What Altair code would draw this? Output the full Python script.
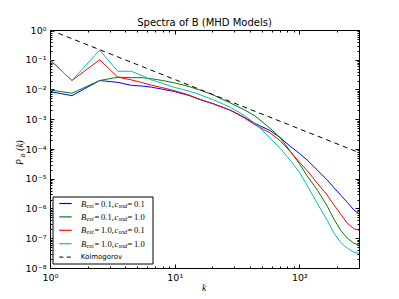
import altair as alt
import pandas as pd

# ---------------- data ----------------
k = [1, 1.5, 2.5, 3.5, 4.5, 5.5, 6.5, 8, 10, 13, 16, 20, 28, 36, 44, 58, 70, 85, 100, 115,
     139, 167, 189, 215, 242, 273, 300]
blue = [0.0085, 0.0062, 0.020, 0.0174, 0.0138, 0.013, 0.012, 0.0102, 0.0085, 0.0063, 0.0046, 0.0034,
        0.0020, 1.17e-3, 7.2e-4, 4.2e-4, 2.4e-4, 1.2e-4, 7.1e-5, 4.3e-5,
        1.95e-5, 9.1e-6, 5.0e-6, 2.75e-6, 1.6e-6, 8.9e-7, 6.6e-7]
green = [0.0096, 0.0075, 0.020, 0.026, 0.025, 0.025, 0.023, 0.020, 0.0166, 0.0126, 0.0095, 0.0068,
         0.0035, 2.1e-3, 1.29e-3, 5.0e-4, 2.4e-4, 8.1e-5, 3.2e-5, 1.26e-5,
         4.2e-6, 1.2e-6, 4.4e-7, 1.8e-7, 1.0e-7, 6.8e-8, 5.9e-8]
red = [0.10, 0.020, 0.10, 0.026, 0.021, 0.017, 0.014, 0.0115, 0.0091, 0.0065, 0.0046, 0.0034,
       0.0020, 1.12e-3, 6.5e-4, 3.5e-4, 1.9e-4, 7.9e-5, 3.6e-5, 1.9e-5,
       7.1e-6, 2.8e-6, 1.32e-6, 6.3e-7, 3.2e-7, 2.1e-7, 1.86e-7]
cyan = [0.10, 0.020, 0.21, 0.041, 0.041, 0.029, 0.021, 0.016, 0.0117, 0.0089, 0.0066, 0.0047,
        0.0025, 1.35e-3, 7.2e-4, 2.4e-4, 1.05e-4, 4.0e-5, 1.66e-5, 6.0e-6,
        1.48e-6, 4.0e-7, 1.48e-7, 7.1e-8, 4.6e-8, 3.4e-8, 3.1e-8]
kol_k = [1, 300]
kol_p = [1.0, 7.6e-5]

series_names = ["s1", "s2", "s3", "s4"]
series_colors = ["#0000ff", "#008000", "#ff0000", "#00bfbf"]
bext_vals = ["0.1", "0.1", "1.0", "1.0"]
csnd_vals = ["0.1", "1.0", "0.1", "1.0"]
kol_label = "Kolmogorov"
title_text = "Spectra of B (MHD Models)"

x_major = [1, 10, 100]
x_minor = [m * 10 ** e for e in range(0, 2) for m in range(2, 10)] + [200, 300]
y_major = [10.0 ** e for e in range(-8, 1)]
y_minor = [m * 10.0 ** e for e in range(-8, 0) for m in range(2, 10)]

# ---------------- build ----------------
W, H = 309, 238
rows = []
for name, vals in zip(series_names, [blue, green, red, cyan]):
    for kk, v in zip(k, vals):
        rows.append({"series": name, "k": kk, "P": v})
df = pd.DataFrame(rows)
kdf = pd.DataFrame({"k": kol_k, "P": kol_p})

xs = alt.Scale(type="log", domain=[1, 300], nice=False)
ys = alt.Scale(type="log", domain=[1e-8, 1], nice=False)

E = "round(log(datum.value)/LN10)"
sup = ("'10' + (" + E + " < 0 ? '⁻' : '') + substring('⁰¹²³⁴⁵⁶⁷⁸⁹', abs(" + E + "), abs(" + E + ") + 1)")
major_test = "abs(log(datum.value)/LN10 - round(log(datum.value)/LN10)) < 0.001"
tsize = {"condition": {"test": major_test, "value": 4}, "value": 2}

lab = dict(labelFont="DejaVu Sans", labelFontSize=9.5, labelColor="black",
           labelOverlap=False, labelFlush=False, ticks=False, domain=False, grid=False, title=None)
main_x = alt.Axis(orient="bottom", values=x_major, labelExpr=sup, labelPadding=4, **lab)
main_y = alt.Axis(orient="left", values=y_major, labelExpr=sup, labelPadding=4, **lab)


def tick_axis(orient, offset, values):
    return alt.Axis(orient=orient, offset=offset, values=values, labels=False, domain=False,
                    grid=False, title=None, ticks=True, tickColor="black", tickWidth=1,
                    tickSize=tsize)


xt = x_major + x_minor
yt = y_major + y_minor

lines = alt.Chart(df).mark_line(strokeWidth=1, clip=True).encode(
    x=alt.X("k:Q", scale=xs, axis=main_x),
    y=alt.Y("P:Q", scale=ys, axis=main_y),
    color=alt.Color("series:N", scale=alt.Scale(domain=series_names, range=series_colors), legend=None),
)
kol = alt.Chart(kdf).mark_line(strokeWidth=1, color="black", strokeDash=[5, 4], clip=True).encode(
    x=alt.X("k:Q", scale=xs, axis=tick_axis("top", -H, xt)),
    y=alt.Y("P:Q", scale=ys, axis=tick_axis("right", -W, yt)),
)
ghost = alt.Chart(kdf).mark_point(opacity=0).encode(
    x=alt.X("k:Q", scale=xs, axis=tick_axis("bottom", -H, xt)),
    y=alt.Y("P:Q", scale=ys, axis=tick_axis("left", -W, yt)),
)

one = pd.DataFrame({"a": [0]})
layers = [lines, kol, ghost]

# legend box
layers.append(alt.Chart(one).mark_rect(fill="white", stroke="black", strokeWidth=1).encode(
    x=alt.value(3), x2=alt.value(103), y=alt.value(167), y2=alt.value(234)))

row_y0, row_dy = 173.5, 13.4
serif = "Liberation Serif"
fs_main, fs_sub = 8.5, 6


def txt(t, x, y, size, font=serif, style="italic", align="left", angle=None):
    kw = dict(font=font, fontSize=size, fontStyle=style, align=align, baseline="middle", color="black")
    if angle is not None:
        kw["angle"] = angle
    return alt.Chart(pd.DataFrame({"t": [t]})).mark_text(**kw).encode(
        x=alt.value(x), y=alt.value(y), text="t:N")


for i in range(4):
    yy = row_y0 + i * row_dy
    layers.append(alt.Chart(one).mark_rule(color=series_colors[i], strokeWidth=1.2).encode(
        x=alt.value(9.3), x2=alt.value(21.7), y=alt.value(yy)))
    layers.append(txt("B", 31, yy, fs_main))
    layers.append(txt("ext", 36.6, yy + 2, fs_sub))
    layers.append(txt("=", 44.5, yy, fs_main, style="normal"))
    layers.append(txt(bext_vals[i] + ",", 51, yy, fs_main, style="normal"))
    layers.append(txt("c", 64.5, yy, fs_main))
    layers.append(txt("snd", 68.6, yy + 2, fs_sub))
    layers.append(txt("=", 77.5, yy, fs_main, style="normal"))
    layers.append(txt(csnd_vals[i], 84, yy, fs_main, style="normal"))

yk = row_y0 + 4 * row_dy
layers.append(alt.Chart(one).mark_rule(color="black", strokeWidth=1, strokeDash=[4, 3.5]).encode(
    x=alt.value(9.3), x2=alt.value(21.7), y=alt.value(yk)))
layers.append(txt(kol_label, 30.7, yk, 7, font="DejaVu Sans", style="normal"))

# axis titles
layers.append(txt("k", 154, 258, 9.5, align="center"))
layers.append(txt("P", -30, 132, 9.5, align="center", angle=270))
layers.append(txt("B", -27.5, 125.5, 6.5, align="center", angle=270))
layers.append(txt("(k)", -30, 115.5, 9.5, align="center", angle=270))

chart = alt.layer(*layers).resolve_axis(x="independent", y="independent").properties(
    width=W, height=H, autosize="none",
    padding={"left": 42, "top": 22, "right": 30, "bottom": 26},
    title=alt.Title(title_text, font="DejaVu Sans", fontSize=10, fontWeight="normal",
                    color="black", anchor="middle", frame="group", offset=-3),
).configure_view(stroke="black", strokeWidth=1)

chart.save("out.html", embed_options={"renderer": "svg", "actions": False})
